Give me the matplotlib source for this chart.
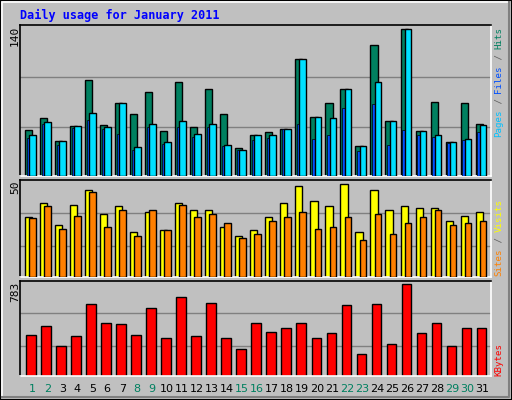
import matplotlib
matplotlib.use("Agg")
import matplotlib.pyplot as plt
from matplotlib.patches import Rectangle
from matplotlib.lines import Line2D

days = list(range(1, 32))
weekend = [1, 2, 8, 9, 15, 16, 22, 23, 29, 30]
hits = [44, 56, 34, 48, 92, 49, 70, 59, 80, 43, 90, 47, 83, 59, 27, 39, 42, 45, 112, 57, 70, 83, 29, 125, 53, 140, 43, 71, 33, 70, 50]
files = [39, 52, 34, 48, 60, 47, 70, 28, 50, 33, 53, 40, 50, 30, 25, 39, 39, 45, 112, 57, 56, 83, 29, 90, 53, 140, 43, 39, 33, 36, 49]
pages = [37, 50, 30, 46, 54, 45, 40, 25, 47, 31, 47, 38, 47, 29, 25, 35, 37, 45, 50, 36, 39, 65, 24, 69, 30, 44, 39, 38, 32, 35, 42]
visits = [32, 40, 28, 39, 47, 34, 38, 24, 35, 25, 40, 36, 36, 27, 22, 25, 32, 40, 49, 41, 38, 50, 24, 47, 36, 38, 37, 37, 30, 33, 35]
sites = [31.5, 38, 26, 33, 46, 27, 36, 22, 36, 25, 39, 32, 34, 29, 21, 23, 30, 32, 35, 26, 27, 32, 20, 34, 23, 29, 32, 36, 28, 29, 30]
kbytes = [344, 422, 250, 336, 611, 447, 439, 344, 576, 318, 671, 336, 619, 318, 224, 447, 370, 404, 447, 318, 361, 602, 181, 611, 267, 783, 361, 447, 250, 404, 404]

BG = "#C0C0C0"
W, H = 512, 400
fig = plt.figure(figsize=(5.12, 4.0), dpi=100, facecolor=BG)

def fx(px): return px / W
def fy(py): return 1 - py / H

fig.patches.append(Rectangle((0, 0), 1, 1, transform=fig.transFigure, fill=False, ec="black", lw=1.5))
fig.lines.append(Line2D([fx(2), fx(2), fx(509)], [fy(397), fy(2), fy(2)], transform=fig.transFigure, color="white", lw=1.2))
fig.lines.append(Line2D([fx(2), fx(509), fx(509)], [fy(397), fy(397), fy(2)], transform=fig.transFigure, color="#808080", lw=1.5))

L, R = 20.3, 490.7
mono = "DejaVu Sans Mono"

def make_ax(top, bottom, ymax, grids):
    ax = fig.add_axes([fx(L), fy(bottom), fx(R - L), (bottom - top) / H])
    ax.set_facecolor(BG)
    ax.set_xlim(0.307, 31.65)
    ax.set_ylim(0, ymax)
    for g in grids:
        ax.axhline(g, color="#808080", lw=1, zorder=0)
    ax.set_xticks([]); ax.set_yticks([])
    ax.spines["top"].set_color("black"); ax.spines["left"].set_color("black")
    ax.spines["bottom"].set_color("white"); ax.spines["right"].set_color("white")
    for s in ax.spines.values():
        s.set_linewidth(1.2)
    return ax

ax1 = make_ax(25, 176.5, 144.1, [94.9, 46.7])
ax2 = make_ax(180, 276.5, 52.3, [34.2, 16.3])
ax3 = make_ax(280.7, 375.5, 814, [536, 250])

kw = dict(align="edge", edgecolor="black", linewidth=1, zorder=2)
d = days
ax1.bar([x - 0.36 for x in d], hits, width=0.47, color="#008060", **kw)
ax1.bar([x - 0.23 for x in d], pages, width=0.15, color="#0050FF", edgecolor="black", linewidth=0.5, align="edge", zorder=3)
ax1.bar([x - 0.09 for x in d], files, width=0.46, color="#00E0FF", edgecolor="black", linewidth=1, align="edge", zorder=4)
ax2.bar([x - 0.36 for x in d], visits, width=0.47, color="#FFFF00", **kw)
ax2.bar([x - 0.09 for x in d], sites, width=0.46, color="#FF8000", edgecolor="black", linewidth=1, align="edge", zorder=3)
ax3.bar([x - 0.29 for x in d], kbytes, width=0.66, color="#FF0000", **kw)

fig.text(fx(20), fy(15), "Daily usage for January 2011", color="#0000FF", fontsize=8.5,
         fontweight="bold", family=mono, va="center", ha="left")

for lab, ytop in [("140", 26), ("50", 181), ("783", 282)]:
    fig.text(fx(15), fy(ytop), lab, rotation=90, fontsize=8, family=mono, ha="center", va="top", color="black")

FS = 6.6
ADV = FS * 0.602 * 100 / 72

def right_label(parts, ybottom):
    y = ybottom
    for txt, col in parts:
        fig.text(fx(499), fy(y), txt, rotation=90, fontsize=FS, family=mono, ha="center", va="bottom", color=col)
        y -= len(txt) * ADV

SL = "#606060"
right_label([("Pages", "#00C0FF"), (" / ", SL), ("Files", "#0050FF"), (" / ", SL), ("Hits", "#008060")], 137)
right_label([("Sites", "#FF8000"), (" / ", SL), ("Visits", "#FFFF00")], 276)
right_label([("KBytes", "#FF0000")], 376)

for day in days:
    col = "#008060" if day in weekend else "black"
    xc = 30.7 + 15 * (day - 1) + 1.5
    fig.text(fx(xc), fy(389), str(day), fontsize=8, family="DejaVu Sans", ha="center", va="center", color=col)

fig.savefig("out.png", dpi=100, facecolor=BG)
